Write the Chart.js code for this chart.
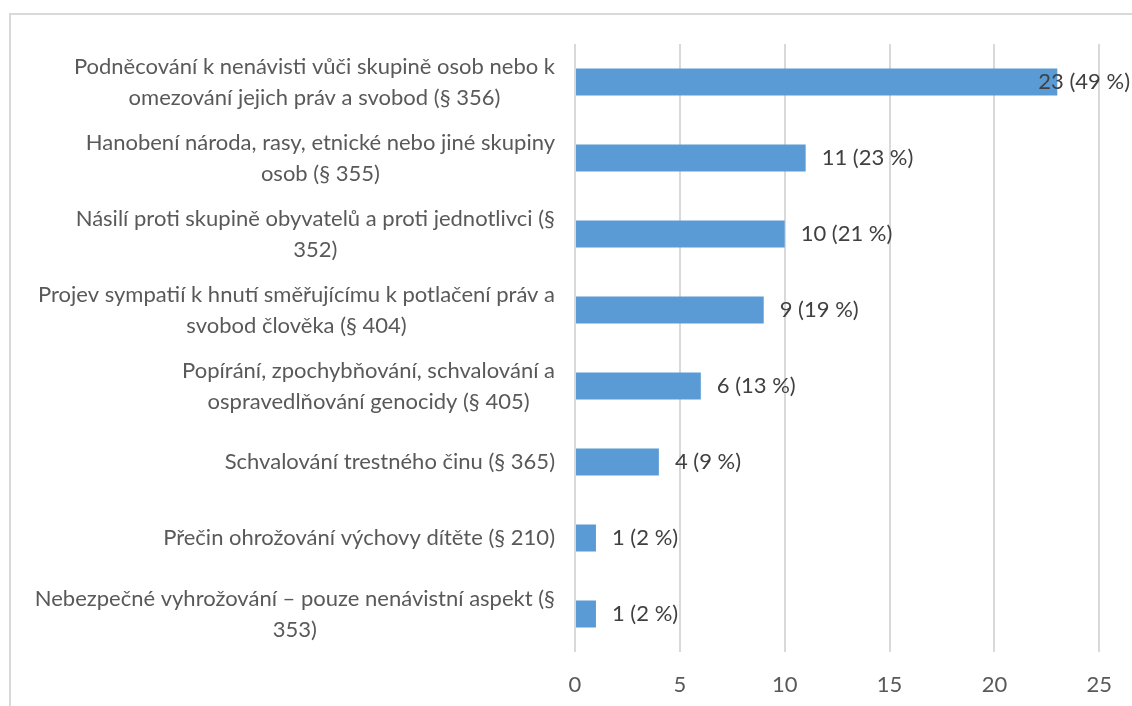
<!DOCTYPE html>
<html>
<head>
<meta charset="utf-8">
<script src="https://cdn.jsdelivr.net/npm/chart.js@4/dist/chart.umd.min.js"></script>
<style>
    html, body {margin: 0; padding: 0; background: #fff; overflow: hidden;}
    #wrap {position: relative; width: 1132px; height: 706px;}
    #frame {position: absolute; left: 9px; top: 13px; width: 1200px; height: 800px; border: 2px solid #D9D9D9;}
    #c {position: absolute; left: 0; top: 0;}
</style>
</head>
<body>
<div id="wrap">
    <div id="frame"></div>
    <canvas id="c" width="1132" height="706"></canvas>
</div>
<script>
"use strict";

const categories = [
    ["Podněcování k nenávisti vůči skupině osob nebo k", "omezování jejich práv a svobod (§ 356)"],
    ["Hanobení národa, rasy, etnické nebo jiné skupiny", "osob (§ 355)"],
    ["Násilí proti skupině obyvatelů a proti jednotlivci (§", "352)"],
    ["Projev sympatií k hnutí směřujícímu k potlačení práv a", "svobod člověka (§ 404)"],
    ["Popírání, zpochybňování, schvalování a", "ospravedlňování genocidy (§ 405)"],
    ["Schvalování trestného činu (§ 365)"],
    ["Přečin ohrožování výchovy dítěte (§ 210)"],
    ["Nebezpečné vyhrožování – pouze nenávistní aspekt (§", "353)"]
];
const counts = [23, 11, 10, 9, 6, 4, 1, 1];
const percents = [49, 23, 21, 19, 13, 9, 2, 2];

const FONT = "Lato, 'Open Sans', sans-serif";
const TEXT = '#595959';
const SIZE = 22;

// category labels: each block right aligned, its lines centered
const catLabels = {
    id: 'catLabels',
    afterDraw(chart) {
        const ctx = chart.ctx;
        const y = chart.scales.y;
        ctx.save();
        ctx.font = SIZE + 'px ' + FONT;
        ctx.fillStyle = TEXT;
        ctx.textAlign = 'center';
        ctx.textBaseline = 'middle';
        const right = 555, lh = 31;
        categories.forEach((lines, i) => {
            const w = Math.max(...lines.map(l => ctx.measureText(l).width));
            const cx = right - w / 2;
            const cy = y.getPixelForValue(i);
            lines.forEach((l, k) => {
                ctx.fillText(l, cx, cy + (k - (lines.length - 1) / 2) * lh);
            });
        });
        ctx.restore();
    }
};

// value labels after bar end, kept inside the canvas
const valueLabels = {
    id: 'valueLabels',
    afterDatasetsDraw(chart) {
        const ctx = chart.ctx;
        const meta = chart.getDatasetMeta(0);
        ctx.save();
        ctx.font = SIZE + 'px ' + FONT;
        ctx.fillStyle = '#404040';
        ctx.textAlign = 'left';
        ctx.textBaseline = 'middle';
        meta.data.forEach((bar, i) => {
            const txt = counts[i] + ' (' + percents[i] + ' %)';
            const w = ctx.measureText(txt).width;
            let x = bar.x + 16;
            if (x + w > chart.width - 2) x = chart.width - 2 - w;
            ctx.fillText(txt, x, bar.y);
        });
        ctx.restore();
    }
};

new Chart(document.getElementById('c'), {
    type: 'bar',
    data: {
        labels: categories.map(c => c.join(' ')),
        datasets: [{
            data: counts,
            backgroundColor: '#5B9BD5',
            categoryPercentage: 1,
            barPercentage: 0.355
        }]
    },
    options: {
        indexAxis: 'y',
        responsive: false,
        animation: false,
        layout: {padding: {top: 44, right: 31, left: 0, bottom: 0}},
        plugins: {legend: {display: false}, tooltip: {enabled: false}},
        scales: {
            x: {
                min: 0,
                max: 25,
                ticks: {stepSize: 5, color: TEXT, font: {family: FONT, size: SIZE}, padding: 20},
                grid: {color: '#D9D9D9', lineWidth: 2, drawTicks: false},
                border: {display: false},
                afterFit(s) { s.height = 54; }
            },
            y: {
                ticks: {display: false},
                grid: {display: false},
                border: {display: false},
                afterFit(s) { s.width = 575; }
            }
        }
    },
    plugins: [catLabels, valueLabels]
});
</script>
</body>
</html>
